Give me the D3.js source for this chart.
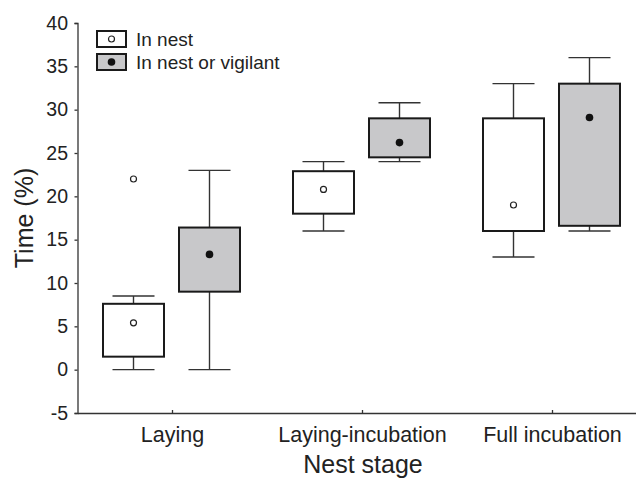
<!DOCTYPE html>
<meta charset="utf-8">
<style>
body { margin: 0; background: #fff; }
svg { font-family: "Liberation Sans", Arial, sans-serif; }
.axis path, .axis line { stroke: #333; stroke-width: 1.3px; }
.axis text { fill: #222; }
.box { stroke: #1a1a1a; stroke-width: 2px; }
.whisker { stroke: #333; stroke-width: 1.4px; }
</style>
<svg width="636" height="481"></svg>
<script src="https://d3js.org/d3.v7.min.js"></script>
<script>

var categories = ["Laying", "Laying-incubation", "Full incubation"];
var series = ["In nest", "In nest or vigilant"];

// per stage: whisker low, box bottom, box top, whisker high, central point
var nestLow = [0, 16, 13],
    nestQ1 = [1.5, 18, 16],
    nestQ3 = [7.6, 22.9, 29],
    nestHigh = [8.5, 24, 33],
    nestPoint = [5.4, 20.8, 19];

var vigLow = [0, 24, 16],
    vigQ1 = [9, 24.5, 16.6],
    vigQ3 = [16.4, 29, 33],
    vigHigh = [23, 30.8, 36],
    vigPoint = [13.3, 26.2, 29.1];

// extra points outside the whiskers
var outliers = [{stage: "Laying", series: "In nest", value: 22}];

var yTicks = [-5, 0, 5, 10, 15, 20, 25, 30, 35, 40];

var fills = {"In nest": "#fff", "In nest or vigilant": "#c8c8ca"};

var svg = d3.select("svg");

var y = d3.scaleLinear().domain([-5, 40]).range([413, 23]);
var x = d3.scaleBand().domain(categories).range([77.5, 647.5]);
var xs = d3.scalePoint().domain(series).range([-39, 37]);

var boxW = 61, capW = 42;

function rows(name, lo, q1, q3, hi, pt) {
  return categories.map(function(c, i) {
    return {stage: c, series: name, lo: lo[i], q1: q1[i], q3: q3[i], hi: hi[i], pt: pt[i]};
  });
}
var data = rows(series[0], nestLow, nestQ1, nestQ3, nestHigh, nestPoint)
  .concat(rows(series[1], vigLow, vigQ1, vigQ3, vigHigh, vigPoint));

function cx(d) { return x(d.stage) + x.bandwidth() / 2 + xs(d.series); }

// axes
svg.append("g")
    .attr("class", "axis")
    .attr("transform", "translate(77.5,0)")
    .call(d3.axisLeft(y).tickValues(yTicks).tickSize(3).tickPadding(6.5)
      .tickFormat(function(d) { return String(d); }))
    .call(function(g) { g.selectAll("text").style("font-size", "19.5px"); });

svg.append("g")
    .attr("class", "axis")
    .attr("transform", "translate(0,413)")
    .call(d3.axisBottom(x).tickSizeInner(-3).tickSizeOuter(0).tickPadding(14))
    .call(function(g) { g.selectAll("text").style("font-size", "21.5px"); });

svg.append("text")
    .attr("transform", "translate(33,218) rotate(-90)")
    .attr("text-anchor", "middle")
    .style("font-size", "25px")
    .attr("fill", "#222")
    .text("Time (%)");

svg.append("text")
    .attr("x", 363)
    .attr("y", 473)
    .attr("text-anchor", "middle")
    .style("font-size", "25px")
    .attr("fill", "#222")
    .text("Nest stage");

// boxes
var box = svg.append("g").selectAll("g")
  .data(data)
  .enter().append("g");

box.append("line").attr("class", "whisker")
    .attr("x1", cx).attr("x2", cx)
    .attr("y1", function(d) { return y(d.hi); })
    .attr("y2", function(d) { return y(d.q3); });
box.append("line").attr("class", "whisker")
    .attr("x1", cx).attr("x2", cx)
    .attr("y1", function(d) { return y(d.q1); })
    .attr("y2", function(d) { return y(d.lo); });
box.append("line").attr("class", "whisker")
    .attr("x1", function(d) { return cx(d) - capW / 2; })
    .attr("x2", function(d) { return cx(d) + capW / 2; })
    .attr("y1", function(d) { return y(d.hi); })
    .attr("y2", function(d) { return y(d.hi); });
box.append("line").attr("class", "whisker")
    .attr("x1", function(d) { return cx(d) - capW / 2; })
    .attr("x2", function(d) { return cx(d) + capW / 2; })
    .attr("y1", function(d) { return y(d.lo); })
    .attr("y2", function(d) { return y(d.lo); });

box.append("rect").attr("class", "box")
    .attr("x", function(d) { return cx(d) - boxW / 2; })
    .attr("width", boxW)
    .attr("y", function(d) { return y(d.q3); })
    .attr("height", function(d) { return y(d.q1) - y(d.q3); })
    .attr("fill", function(d) { return fills[d.series]; });

function marker(sel, s) {
  if (s === series[0]) {
    sel.attr("r", 3).attr("fill", "#fff").attr("stroke", "#222").attr("stroke-width", 1.2);
  } else {
    sel.attr("r", 3.8).attr("fill", "#111");
  }
}

box.append("circle")
    .attr("cx", cx)
    .attr("cy", function(d) { return y(d.pt); })
    .each(function(d) { marker(d3.select(this), d.series); });

svg.append("g").selectAll("circle")
  .data(outliers)
  .enter().append("circle")
    .attr("cx", cx)
    .attr("cy", function(d) { return y(d.value); })
    .each(function(d) { marker(d3.select(this), d.series); });

// legend
var legend = svg.append("g").selectAll("g")
  .data(series)
  .enter().append("g")
    .attr("transform", function(d, i) { return "translate(97," + (31 + i * 23) + ")"; });

legend.append("rect").attr("class", "box")
    .attr("width", 29).attr("height", 16)
    .attr("fill", function(d) { return fills[d]; });
legend.append("circle")
    .attr("cx", 14.5).attr("cy", 8)
    .each(function(d) { marker(d3.select(this), d); });
legend.append("text")
    .attr("x", 39).attr("y", 15)
    .style("font-size", "19px")
    .attr("fill", "#222")
    .text(function(d) { return d; });

</script>
